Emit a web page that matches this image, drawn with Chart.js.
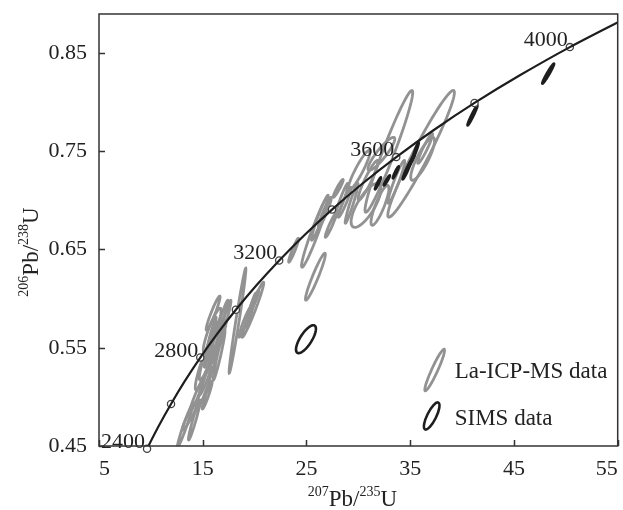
<!DOCTYPE html>
<html>
<head>
<meta charset="utf-8">
<script src="https://cdn.jsdelivr.net/npm/chart.js@4.4.1/dist/chart.umd.min.js"></script>
<style>
  html, body { margin: 0; padding: 0; background: #fff; }
  #wrap { width: 623px; height: 510px; position: relative; }
</style>
</head>
<body>
<div id="wrap"><canvas id="concordia"></canvas></div>
<script>
// Concordia curve, read every 100 Ma
const concAges = [2350, 2400, 2500, 2600, 2700, 2800, 2900, 3000, 3100, 3200,
                  3300, 3400, 3500, 3600, 3700, 3800, 3900, 4000, 4100];
const concX = [9.119, 9.630, 10.730, 11.944, 13.283, 14.762, 16.393, 18.193, 20.180, 22.371,
               24.790, 27.460, 30.406, 33.656, 37.242, 41.200, 45.568, 50.388, 55.706];
const concY = [0.4359, 0.4471, 0.4698, 0.4928, 0.5162, 0.5400, 0.5641, 0.5886, 0.6135, 0.6388,
               0.6645, 0.6906, 0.7171, 0.7440, 0.7713, 0.7991, 0.8272, 0.8559, 0.8849];

const markerAges = [2400, 2600, 2800, 3000, 3200, 3400, 3600, 3800, 4000];
const labelAges = [2400, 2800, 3200, 3600, 4000];

const xTicks = [5, 15, 25, 35, 45, 55];
const yTicks = [0.45, 0.55, 0.65, 0.75, 0.85];

// La-ICP-MS error ellipses: centre, half-widths, error correlation
const icpX = [13.28, 14.43, 15.33, 15.72, 15.72, 16.44, 15.72, 16.34, 18.35, 19.83,
              19.64, 19.93, 19.07, 13.80, 15.24, 17.15, 16.00, 25.86, 25.81, 26.29,
              28.40, 29.35, 23.76, 27.34, 32.94, 36.05, 30.74, 26.77, 28.68, 32.22,
              33.66, 36.20, 36.44, 30.93, 32.08, 30.07, 28.06, 15.14, 15.91, 16.58,
              14.19, 15.43, 16.96];
const icpY = [0.4703, 0.5018, 0.5155, 0.5476, 0.5557, 0.5577, 0.5587, 0.5511, 0.5775, 0.5887,
              0.5882, 0.5968, 0.5760, 0.4815, 0.5170, 0.5780, 0.5852, 0.6223, 0.6675, 0.6822,
              0.7000, 0.6970, 0.6492, 0.6746, 0.7498, 0.7473, 0.6949, 0.6878, 0.6980, 0.7473,
              0.7188, 0.7422, 0.7528, 0.7203, 0.6949, 0.7305, 0.7122, 0.5323, 0.5679, 0.5425,
              0.4764, 0.5018, 0.5831];
const icpSx = [0.72, 0.72, 0.96, 1.05, 0.57, 0.81, 0.38, 0.43, 0.81, 1.05,
               0.48, 0.48, 0.57, 0.77, 0.57, 0.57, 0.67, 0.96, 1.29, 0.81,
               0.62, 0.62, 0.48, 0.53, 2.30, 3.21, 1.44, 0.62, 0.62, 1.29,
               0.81, 1.15, 0.72, 0.96, 0.86, 1.05, 0.48, 0.86, 0.86, 0.57,
               0.57, 0.48, 0.48];
const icpSy = [0.0213, 0.0183, 0.0290, 0.0305, 0.0254, 0.0203, 0.0142, 0.0168, 0.0534, 0.0280,
               0.0173, 0.0117, 0.0152, 0.0152, 0.0152, 0.0203, 0.0173, 0.0239, 0.0356, 0.0229,
               0.0173, 0.0203, 0.0122, 0.0122, 0.0620, 0.0645, 0.0224, 0.0152, 0.0152, 0.0168,
               0.0218, 0.0218, 0.0152, 0.0203, 0.0203, 0.0203, 0.0091, 0.0254, 0.0224, 0.0254,
               0.0203, 0.0142, 0.0152];
const icpRho = [0.97, 0.97, 0.96, 0.93, 0.97, 0.90, 0.96, 0.96, 0.98, 0.97,
                0.96, 0.95, 0.95, 0.95, 0.95, 0.96, 0.95, 0.95, 0.96, 0.96,
                0.95, 0.96, 0.95, 0.95, 0.965, 0.965, 0.75, 0.95, 0.95, 0.90,
                0.95, 0.85, 0.95, 0.93, 0.85, 0.92, 0.95, 0.90, 0.90, 0.96,
                0.96, 0.95, 0.95];

// SIMS error ellipses
const simsX = [24.95, 48.30, 41.00, 31.89, 33.61, 34.67, 35.53, 32.75, 35.14];
const simsY = [0.5587, 0.8290, 0.7864, 0.7173, 0.7285, 0.7305, 0.7508, 0.7203, 0.7407];
const simsSx = [0.96, 0.57, 0.48, 0.29, 0.29, 0.40, 0.29, 0.29, 0.29];
const simsSy = [0.0142, 0.0102, 0.0102, 0.0061, 0.0061, 0.0092, 0.0081, 0.0051, 0.0061];
const simsRho = [0.74, 0.97, 0.97, 0.95, 0.95, 0.96, 0.95, 0.95, 0.95];

const FONT = '"Liberation Serif", "Times New Roman", serif';
const GRAY = '#929292';
const DARK = '#1e1e1e';

function concPoint(age) {
  const i = concAges.indexOf(age);
  return { x: concX[i], y: concY[i] };
}

function traceEllipse(ctx, xs, ys, cx, cy, sx, sy, rho) {
  const k = Math.sqrt(1 - rho * rho);
  ctx.beginPath();
  for (let i = 0; i <= 72; i++) {
    const a = (i / 72) * 2 * Math.PI;
    const px = xs.getPixelForValue(cx + sx * Math.cos(a));
    const py = ys.getPixelForValue(cy + sy * (rho * Math.cos(a) + k * Math.sin(a)));
    if (i === 0) ctx.moveTo(px, py); else ctx.lineTo(px, py);
  }
  ctx.closePath();
}

// text with superscript parts, centred on x
function drawRich(ctx, parts, x, y, size, supSize) {
  const widths = parts.map(p => {
    ctx.font = (p[1] ? supSize : size) + 'px ' + FONT;
    return ctx.measureText(p[0]).width;
  });
  let cx = x - widths.reduce((a, b) => a + b, 0) / 2;
  ctx.textAlign = 'left';
  ctx.textBaseline = 'alphabetic';
  parts.forEach((p, i) => {
    ctx.font = (p[1] ? supSize : size) + 'px ' + FONT;
    ctx.fillText(p[0], cx, p[1] ? y - size * 0.42 : y);
    cx += widths[i];
  });
}

const ellipsePlugin = {
  id: 'ellipses',
  beforeDatasetsDraw(chart) {
    const { ctx, chartArea: a, scales: { x, y } } = chart;
    ctx.save();
    ctx.beginPath();
    ctx.rect(a.left, a.top, a.right - a.left, a.bottom - a.top);
    ctx.clip();
    ctx.lineWidth = 2.8;
    ctx.strokeStyle = GRAY;
    icpX.forEach((cx, i) => {
      traceEllipse(ctx, x, y, cx, icpY[i], icpSx[i], icpSy[i], icpRho[i]);
      ctx.stroke();
    });
    ctx.lineWidth = 2.6;
    ctx.strokeStyle = DARK;
    simsX.forEach((cx, i) => {
      traceEllipse(ctx, x, y, cx, simsY[i], simsSx[i], simsSy[i], simsRho[i]);
      ctx.stroke();
    });
    ctx.restore();
  }
};

const framePlugin = {
  id: 'frame',
  afterDatasetsDraw(chart) {
    const { ctx, chartArea: a, scales: { x, y } } = chart;
    ctx.save();
    // age labels on the concordia
    ctx.fillStyle = '#222';
    ctx.font = '22px ' + FONT;
    ctx.textAlign = 'right';
    ctx.textBaseline = 'alphabetic';
    labelAges.forEach(age => {
      const p = concPoint(age);
      ctx.fillText(String(age), x.getPixelForValue(p.x) - 2, y.getPixelForValue(p.y) - 1);
    });
    // box and inward ticks
    ctx.strokeStyle = '#333';
    ctx.lineWidth = 1.5;
    ctx.strokeRect(a.left, a.top, a.right - a.left, a.bottom - a.top);
    ctx.beginPath();
    xTicks.forEach(v => {
      const px = Math.round(x.getPixelForValue(v)) + 0.5;
      ctx.moveTo(px, a.bottom);
      ctx.lineTo(px, a.bottom - 6);
    });
    yTicks.forEach(v => {
      const py = Math.round(y.getPixelForValue(v)) + 0.5;
      ctx.moveTo(a.left, py);
      ctx.lineTo(a.left + 6, py);
    });
    ctx.stroke();

    // axis titles
    ctx.fillStyle = '#222';
    drawRich(ctx, [['207', true], ['Pb/', false], ['235', true], ['U', false]],
      (a.left + a.right) / 2 - 6, 506, 23, 14);
    ctx.translate(38, (a.top + a.bottom) / 2 + 22);
    ctx.rotate(-Math.PI / 2);
    drawRich(ctx, [['206', true], ['Pb/', false], ['238', true], ['U', false]], 0, 0, 23, 14);
    ctx.restore();

    // legend
    ctx.save();
    ctx.lineWidth = 2.8;
    ctx.strokeStyle = GRAY;
    ctx.beginPath();
    ctx.ellipse(a.right - 183, a.bottom - 76, 3, 23, 0.43, 0, 2 * Math.PI);
    ctx.stroke();
    ctx.lineWidth = 2.6;
    ctx.strokeStyle = DARK;
    ctx.beginPath();
    ctx.ellipse(a.right - 186, a.bottom - 30, 4.5, 15, 0.46, 0, 2 * Math.PI);
    ctx.stroke();
    ctx.fillStyle = '#222';
    ctx.font = '23px ' + FONT;
    ctx.textAlign = 'left';
    ctx.textBaseline = 'alphabetic';
    ctx.fillText('La-ICP-MS data', a.right - 163, a.bottom - 68);
    ctx.fillText('SIMS data', a.right - 163, a.bottom - 21);
    ctx.restore();
  }
};

new Chart(document.getElementById('concordia'), {
  type: 'scatter',
  data: {
    datasets: [
      {
        type: 'line',
        data: concAges.map((t, i) => ({ x: concX[i], y: concY[i] })),
        borderColor: DARK,
        borderWidth: 2.2,
        pointRadius: 0,
        tension: 0.3,
        fill: false
      },
      {
        data: markerAges.map(concPoint),
        pointRadius: 3.6,
        pointBackgroundColor: '#ffffff',
        pointBorderColor: '#444',
        pointBorderWidth: 1.3,
        clip: 8
      }
    ]
  },
  options: {
    responsive: true,
    maintainAspectRatio: false,
    animation: false,
    layout: { padding: { top: 14, right: 2, left: 0, bottom: 0 } },
    plugins: {
      legend: { display: false },
      tooltip: { enabled: false }
    },
    scales: {
      x: {
        type: 'linear',
        min: 5,
        max: 55,
        grid: { display: false, drawTicks: false },
        border: { display: false },
        afterBuildTicks: s => { s.ticks = xTicks.map(v => ({ value: v })); },
        afterFit: s => { s.height = 64; s.paddingLeft = 0; s.paddingRight = 0; },
        ticks: {
          align: 'inner',
          padding: 10,
          color: '#222',
          font: { family: FONT, size: 22 },
          maxRotation: 0,
          autoSkip: false
        }
      },
      y: {
        type: 'linear',
        min: 0.45,
        max: 0.8896,
        grid: { display: false, drawTicks: false },
        border: { display: false },
        afterBuildTicks: s => { s.ticks = yTicks.map(v => ({ value: v })); },
        afterFit: s => { s.width = 99; s.paddingTop = 0; s.paddingBottom = 0; },
        ticks: {
          padding: 12,
          color: '#222',
          font: { family: FONT, size: 22 },
          autoSkip: false,
          callback: v => v.toFixed(2)
        }
      }
    }
  },
  plugins: [ellipsePlugin, framePlugin]
});
</script>
</body>
</html>
